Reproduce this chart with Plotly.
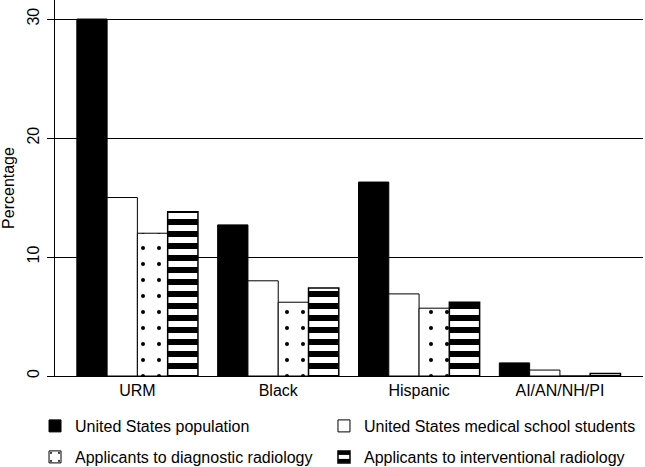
import plotly.graph_objects as go

categories = ["URM", "Black", "Hispanic", "AI/AN/NH/PI"]
us_population = [30.0, 12.7, 16.3, 1.1]
med_students = [15.0, 8.0, 6.9, 0.5]
dr_applicants = [12.0, 6.2, 5.7, 0.0]
ir_applicants = [13.8, 7.4, 6.2, 0.2]
y_ticks = [0, 10, 20, 30]

FONT = "Liberation Sans, Arial, sans-serif"

fig = go.Figure()
fig.add_trace(go.Bar(
    x=categories, y=us_population, name="United States population",
    marker=dict(color="black", line=dict(color="black", width=1)),
    legend="legend",
))
fig.add_trace(go.Bar(
    x=categories, y=med_students, name="United States medical school students",
    marker=dict(color="white", line=dict(color="black", width=1)),
    legend="legend2",
))
fig.add_trace(go.Bar(
    x=categories, y=dr_applicants, name="Applicants to diagnostic radiology",
    marker=dict(color="white", line=dict(color="black", width=1),
                pattern=dict(shape=".", fgcolor="black", bgcolor="white",
                             fgopacity=1, size=16, solidity=0.0491)),
    legend="legend3",
))
fig.add_trace(go.Bar(
    x=categories, y=ir_applicants, name="Applicants to interventional radiology",
    marker=dict(color="white", line=dict(color="black", width=1.5),
                pattern=dict(shape="-", fgcolor="black", bgcolor="white",
                             fgopacity=1, size=12, solidity=0.5)),
    legend="legend4",
))

legend_common = dict(
    orientation="h", xref="container", yref="container",
    xanchor="left", yanchor="middle",
    font=dict(family=FONT, size=16, color="black"),
    bgcolor="rgba(0,0,0,0)", borderwidth=0,
)
col1_x, col2_x = 0.0543, 0.5023
row1_y, row2_y = 0.0878, 0.0214

fig.update_layout(
    width=645, height=467,
    margin=dict(l=55, r=2, t=0, b=91, autoexpand=False),
    paper_bgcolor="white", plot_bgcolor="white",
    barmode="group", bargap=0.14, bargroupgap=0,
    font=dict(family=FONT, size=16, color="black"),
    showlegend=True,
    legend=dict(legend_common, x=col1_x, y=row1_y),
    legend2=dict(legend_common, x=col2_x, y=row1_y),
    legend3=dict(legend_common, x=col1_x, y=row2_y),
    legend4=dict(legend_common, x=col2_x, y=row2_y),
    xaxis=dict(
        type="category", range=[-0.585, 3.59], automargin=False,
        showline=True, linecolor="black", linewidth=1,
        ticks="", showgrid=False,
        tickfont=dict(family=FONT, size=16, color="black"),
    ),
    yaxis=dict(
        range=[0, 31.6], tickvals=y_ticks, automargin=False,
        showline=True, linecolor="black", linewidth=1,
        ticks="outside", ticklen=7, tickcolor="black", tickwidth=1,
        tickangle=-90, ticklabelstandoff=2,
        showgrid=True, gridcolor="black", gridwidth=1,
        zeroline=False,
        tickfont=dict(family=FONT, size=16, color="black"),
        title=dict(text="Percentage", font=dict(family=FONT, size=16, color="black"),
                   standoff=14),
    ),
)

fig.write_html(
    "out.html",
    config={"displayModeBar": False},
    post_script="document.body.style.margin='0';document.body.style.padding='0';",
)
